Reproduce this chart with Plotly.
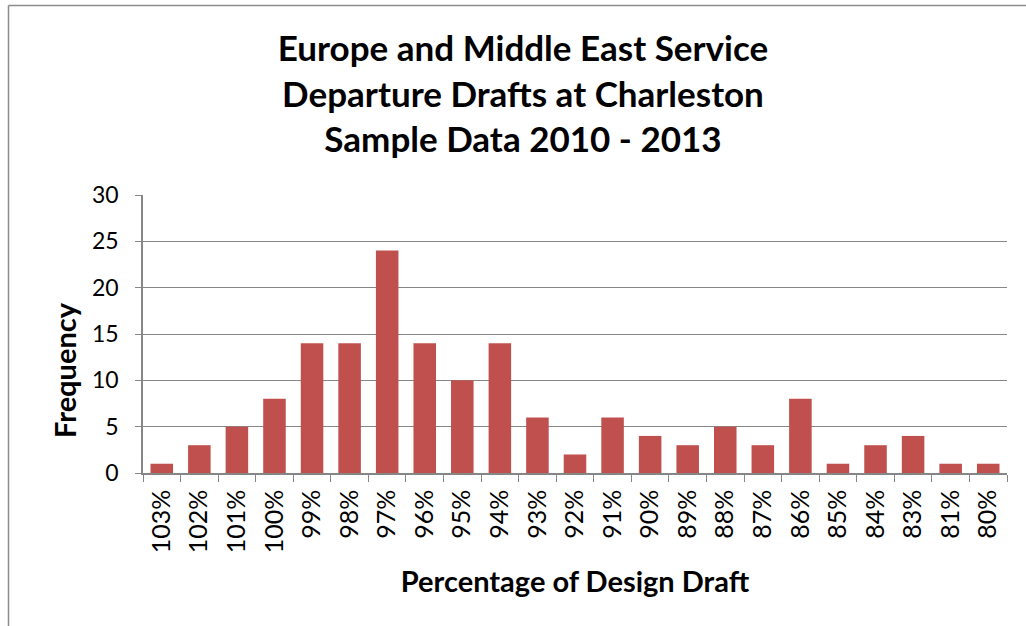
import plotly.graph_objects as go

categories = ["103%", "102%", "101%", "100%", "99%", "98%", "97%", "96%", "95%", "94%",
              "93%", "92%", "91%", "90%", "89%", "88%", "87%", "86%", "85%", "84%",
              "83%", "81%", "80%"]
frequency = [1, 3, 5, 8, 14, 14, 24, 14, 10, 14, 6, 2, 6, 4, 3, 5, 3, 8, 1, 3, 4, 1, 1]
y_ticks = [0, 5, 10, 15, 20, 25, 30]

W, H = 1026, 626
ML, MR, MT, MB = 143, 19, 195, 153
pw, ph = W - ML - MR, H - MT - MB

def px(x):
    return (x - ML) / pw

def py(y):
    return (H - MB - y) / ph

FONT = "Lato"

fig = go.Figure(go.Bar(x=categories, y=frequency, marker=dict(color="#C0504D", line=dict(width=0)),
                       width=0.6))

fig.update_layout(
    width=W, height=H,
    margin=dict(l=ML, r=MR, t=MT, b=MB),
    paper_bgcolor="white", plot_bgcolor="white",
    showlegend=False,
    font=dict(family=FONT, color="black"),
    title=dict(text="<b>Europe and Middle East Service<br>Departure Drafts at Charleston<br>Sample Data 2010 - 2013</b>",
               x=523 / W, xanchor="center", y=1 - 61 / H, yanchor="top",
               font=dict(family=FONT, size=35, color="black")),
    xaxis=dict(type="category", tickangle=-90, tickfont=dict(size=25, family=FONT),
               showline=True, linecolor="#868686", linewidth=1.5,
               ticks="outside", tickson="boundaries", ticklen=7, tickcolor="#868686",
               ticklabelstandoff=5,
               showgrid=False,
               title=dict(text="<b>Percentage of Design Draft</b>", font=dict(size=29, family=FONT), standoff=19)),
    yaxis=dict(range=[0, 30], tickvals=y_ticks, tickfont=dict(size=23, family=FONT),
               showgrid=True, gridcolor="#868686", gridwidth=1,
               showline=True, linecolor="#868686", linewidth=1.5,
               ticks="outside", ticklen=6, tickcolor="#868686",
               ticklabelstandoff=12,
               zeroline=False),
    annotations=[
        dict(text="<b>Frequency</b>", xref="paper", yref="paper", x=px(64), y=py(370),
             xanchor="center", yanchor="middle", textangle=-90, showarrow=False,
             font=dict(size=29, family=FONT, color="black")),
    ],
    shapes=[
        dict(type="line", xref="paper", yref="paper", x0=px(8.5), x1=px(W + 5), y0=py(5.5), y1=py(5.5),
             line=dict(color="#8c8c8c", width=1.5)),
        dict(type="line", xref="paper", yref="paper", x0=px(8.5), x1=px(8.5), y0=py(5.5), y1=py(H + 5),
             line=dict(color="#8c8c8c", width=1.5)),
    ],
)

fig.write_html("out.html")
